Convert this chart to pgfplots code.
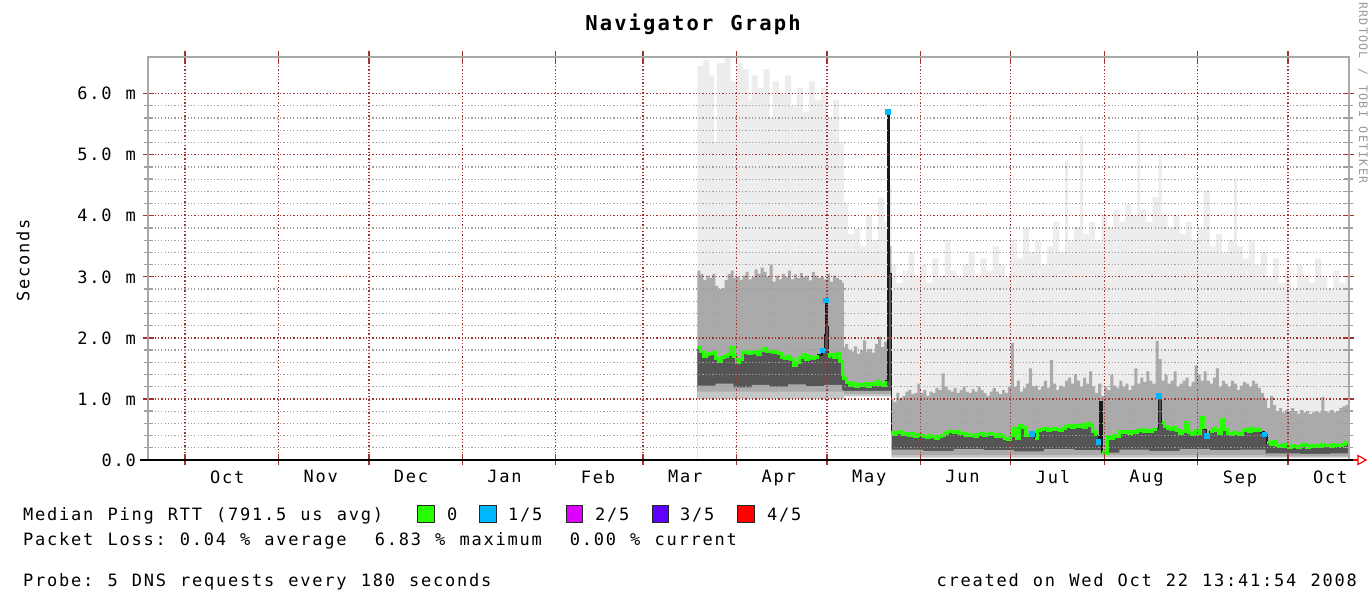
\documentclass[border=0pt]{standalone}
\usepackage{pgfplots}
\pgfplotsset{compat=1.18}
\usepackage{pgfplotstable}
\usepackage{fontspec}
\newfontfamily\pix{DejaVu Sans Mono}[LetterSpace=10.4, WordSpace=1.173]
\newcommand\pixf{\pix\fontsize{17bp}{20bp}\selectfont}
\definecolor{lightsmoke}{HTML}{EDEDED}
\definecolor{midsmoke}{HTML}{AAAAAA}
\definecolor{darksmoke}{HTML}{555555}
\definecolor{lowsmoke}{HTML}{C6C6C6}
\definecolor{gridred}{HTML}{A03232}
\definecolor{gridgray}{HTML}{A0A0A0}
\definecolor{axisgray}{HTML}{A8A8A8}
\definecolor{lossgreen}{HTML}{26FF00}
\definecolor{lossblue}{HTML}{00B8FF}
\definecolor{lossmag}{HTML}{DD00FF}
\definecolor{losspurple}{HTML}{5E00FF}
\definecolor{lossred}{HTML}{FF0000}
% median RTT (ms) per day since 1 Oct 2007; loss: 0 = none, 1 = 1/5, 9 = drawn black only
\pgfplotstableread{
d med loss
170 1.84 0
171 1.78 0
172 1.69 0
173 1.72 0
174 1.75 0
175 1.76 0
176 1.66 0
177 1.62 0
178 1.68 0
179 1.70 0
180 1.72 0
181 1.84 0
182 1.70 0
183 1.60 0
184 1.64 0
185 1.76 0
186 1.78 0
187 1.74 0
188 1.76 0
189 1.77 0
190 1.72 0
191 1.80 0
192 1.82 0
193 1.78 0
194 1.80 0
195 1.76 0
196 1.78 0
197 1.74 0
198 1.68 0
199 1.66 0
200 1.70 0
201 1.65 0
202 1.54 0
203 1.60 0
204 1.68 0
205 1.72 0
206 1.65 0
207 1.70 0
208 1.66 0
209 1.68 0
210 1.72 0
211.4 1.80 1
212.2 2.05 9
212.6 2.62 1
213.0 2.20 9
213.5 1.70 0
214 1.72 0
215 1.68 0
216 1.74 0
217 1.62 0
218 1.40 0
218.6 1.34 0
219.5 1.27 0
220.5 1.22 0
221.5 1.25 0
222.5 1.20 0
223.5 1.24 0
224.5 1.22 0
225.5 1.26 0
226.5 1.21 0
227.5 1.25 0
228.5 1.23 0
229.5 1.28 0
230.5 1.24 0
231.5 1.22 0
232.5 1.30 0
233.2 5.70 1
233.8 3.05 9
234.4 0.45 0
235 0.42 0
236 0.45 0
237 0.46 0
238 0.42 0
239 0.44 0
240 0.40 0
241 0.43 0
242 0.38 0
243 0.41 0
244 0.40 0
245 0.38 0
246 0.37 0
247 0.40 0
248 0.39 0
249 0.36 0
250 0.38 0
251 0.40 0
252 0.44 0
253 0.46 0
254 0.47 0
255 0.45 0
256 0.46 0
257 0.44 0
258 0.43 0
259 0.40 0
260 0.42 0
261 0.40 0
262 0.38 0
263 0.41 0
264 0.43 0
265 0.40 0
266 0.42 0
267 0.44 0
268 0.42 0
269 0.39 0
270 0.41 0
271 0.38 0
272 0.36 0
273 0.34 0
274 0.40 0
275 0.52 0
276 0.36 0
277 0.56 0
278 0.54 0
279 0.40 0
280 0.38 0
281 0.43 1
282 0.36 0
283 0.48 0
284 0.50 0
285 0.52 0
286 0.49 0
287 0.50 0
288 0.52 0
289 0.50 0
290 0.48 0
291 0.51 0
292 0.55 0
293 0.56 0
294 0.54 0
295 0.57 0
296 0.55 0
297 0.58 0
298 0.54 0
299 0.60 0
300 0.56 0
301 0.46 0
302 0.40 0
303 0.30 1
303.6 0.95 9
304.2 0.12 0
305 0.10 0
306 0.38 0
307 0.36 0
308 0.40 0
309 0.38 0
310 0.46 0
311 0.45 0
312 0.47 0
313 0.44 0
314 0.46 0
315 0.45 0
316 0.48 0
317 0.50 0
318 0.47 0
319 0.49 0
320 0.46 0
321 0.50 0
322 0.52 0
323 1.05 1
324 0.62 0
325 0.55 0
326 0.52 0
327 0.50 0
328 0.54 0
329 0.48 0
330 0.44 0
331 0.47 0
332 0.62 0
333 0.45 0
334 0.42 0
335 0.48 0
336 0.44 0
337 0.70 0
338 0.50 0
339 0.40 1
340 0.46 0
341 0.52 0
342 0.48 0
343 0.44 0
344 0.66 0
345 0.50 0
346 0.44 0
347 0.42 0
348 0.45 0
349 0.43 0
350 0.42 0
351 0.48 0
352 0.50 0
353 0.46 0
354 0.52 0
355 0.48 0
356 0.50 0
357 0.46 0
358 0.42 1
359 0.28 0
360 0.26 0
361 0.30 0
362 0.24 0
363 0.22 0
364 0.25 0
365 0.22 0
366 0.20 0
367 0.24 0
368 0.22 0
369 0.21 0
370 0.23 0
371 0.25 0
372 0.21 0
373 0.23 0
374 0.22 0
375 0.24 0
376 0.22 0
377 0.25 0
378 0.23 0
379 0.24 0
380 0.22 0
381 0.25 0
382 0.24 0
383 0.23 0
384 0.25 0
385 0.29 0
386.2 0.29 0
}\Med
% top of the light smoke
\pgfplotstableread{
d v
170 6.45
172 6.55
174 6.30
175.5 5.20
176.5 6.50
179 6.60
181 6.20
183 6.50
185 6.40
187 5.90
188 6.30
190 6.10
192 6.40
194 5.60
195 6.20
197 6.00
199 6.30
201 5.80
203 6.10
205 5.70
207 6.20
209 5.90
211 6.10
213 5.60
215 5.90
217 5.20
218.6 4.20
220 3.70
222 3.80
224 3.50
226 4.00
228 3.60
230 4.30
232 3.90
233 4.50
234.4 3.20
236 2.90
238 3.10
240 3.40
242 3.00
244 3.20
246 2.90
248 3.30
250 3.00
252 3.60
254 3.10
256 3.00
258 3.20
260 3.40
262 3.00
264 3.30
266 3.10
268 3.50
270 3.20
272 3.00
274 3.60
276 3.30
278 3.80
280 3.40
282 3.60
284 3.20
286 3.50
288 3.90
290 3.40
292 4.90
293 3.60
295 3.80
297 5.30
298 3.70
300 3.90
302 3.60
304 4.00
306 3.80
308 4.10
310 3.90
312 4.20
314 4.00
316 5.40
317 4.10
319 3.90
321 4.30
323 5.00
324 4.00
326 3.80
328 4.00
330 3.70
332 3.90
334 3.60
336 3.80
338 4.40
340 3.50
342 3.70
344 3.40
346 3.60
348 4.60
349 3.50
351 3.30
353 3.60
355 3.20
357 3.40
359 3.00
361 3.30
363 2.90
365 3.10
367 2.80
369 3.20
371 3.00
373 2.90
375 3.30
377 3.00
379 2.80
381 3.10
383 2.90
385 3.00
386.2 3.00
}\Lhi
% top of the mid smoke
\pgfplotstableread{
d v
170 3.10
171 3.05
172 2.95
173 3.02
174 2.98
175 3.05
176 2.85
177 2.80
178 2.82
179 2.95
180 3.05
181 3.10
182 2.98
183 3.00
184 2.95
185 3.02
186 3.08
187 2.96
188 3.00
189 3.12
190 3.05
191 3.15
192 3.08
193 3.00
194 3.20
195 2.92
196 3.02
197 2.96
198 3.05
199 3.00
200 3.10
201 2.96
202 3.04
203 2.98
204 3.06
205 3.00
206 3.02
207 2.94
208 3.08
209 3.02
210 2.98
211 3.00
212 2.96
213 3.05
214 2.92
215 3.02
216 2.98
217 2.95
218 2.90
218.6 1.85
219 1.90
220 1.80
221 1.78
222 1.86
223 1.74
224 1.80
225 1.96
226 1.78
227 1.82
228 1.76
229 1.90
230 2.02
231 1.85
232 1.94
233 3.50
234.4 1.00
235 0.95
236 1.10
237 1.00
238 1.05
239 1.12
240 1.15
241 1.08
242 1.10
243 1.25
244 1.10
245 1.15
246 1.05
247 1.12
248 1.10
249 1.18
250 1.15
251 1.42
252 1.20
253 1.15
254 1.12
255 1.18
256 1.10
257 1.15
258 1.20
259 1.12
260 1.10
261 1.16
262 1.12
263 1.20
264 1.15
265 1.10
266 1.05
267 1.12
268 1.18
269 1.12
270 1.08
271 1.15
272 1.10
273 1.20
274 1.92
275 1.20
276 1.30
277 1.12
278 1.18
279 1.25
280 1.50
281 1.20
282 1.22
283 1.15
284 1.20
285 1.30
286 1.18
287 1.64
288 1.25
289 1.15
290 1.22
291 1.20
292 1.30
293 1.35
294 1.25
295 1.40
296 1.30
297 1.20
298 1.35
299 1.25
300 1.45
301 1.20
302 1.10
303 1.25
304 1.05
305 1.20
306 1.15
307 1.40
308 1.22
309 1.18
310 1.30
311 1.20
312 1.25
313 1.15
314 1.22
315 1.50
316 1.25
317 1.35
318 1.28
319 1.45
320 1.30
321 1.25
322 1.95
323 1.65
324 1.30
325 1.40
326 1.25
327 1.30
328 1.45
329 1.20
330 1.25
331 1.30
332 1.35
333 1.20
334 1.28
335 1.55
336 1.40
337 1.30
338 1.45
339 1.30
340 1.25
341 1.35
342 1.50
343 1.20
344 1.30
345 1.25
346 1.20
347 1.30
348 1.25
349 1.15
350 1.22
351 1.28
352 1.25
353 1.20
354 1.30
355 1.25
356 1.18
357 1.10
358 1.00
359 0.85
360 1.05
361 0.90
362 0.80
363 0.85
364 0.78
365 0.82
366 0.80
367 0.85
368 0.80
369 0.76
370 0.82
371 0.78
372 0.80
373 0.75
374 0.78
375 0.80
376 0.78
377 1.03
378 0.80
379 0.78
380 0.82
381 0.78
382 0.80
383 0.85
384 0.88
385 0.90
386.2 0.90
}\Mhi
% bottom of the dark smoke
\pgfplotstableread{
d v
170 1.22
176 1.25
182 1.19
188 1.23
194 1.20
200 1.24
206 1.21
212 1.23
218 1.14
218.6 1.13
234.4 0.17
245 0.15
255 0.18
265 0.16
275 0.14
285 0.18
295 0.16
305 0.12
310 0.17
320 0.15
330 0.18
340 0.16
350 0.17
358.5 0.11
370 0.10
380 0.11
386.2 0.11
}\Dlo
% bottom of the mid smoke
\pgfplotstableread{
d v
170 1.12
218.6 1.08
234.4 0.08
358.5 0.06
386.2 0.06
}\Mlo
% bottom of the light smoke
\pgfplotstableread{
d v
170 1.00
218.6 1.04
234.4 0.04
386.2 0.04
}\Llo
\begin{document}
\frenchspacing
\begin{tikzpicture}
\useasboundingbox (0,0) rectangle (1371bp,592bp);
\begin{axis}[
  name=ax, at={(148bp,132bp)}, anchor=south west,
  scale only axis, width=1201bp, height=403bp,
  xmin=-12.28, xmax=386.2, ymin=0, ymax=6.6,
  axis on top,
  axis line style={draw=axisgray, line width=1.5bp},
  tick align=center,
  major tick length=11bp, minor tick length=9bp,
  major tick style={draw=gridred, line width=1.3bp},
  minor tick style={draw=gridgray, line width=1.3bp},
  xtick={0,31,61,92,123,152,183,213,244,274,305,336,366},
  xticklabels={},
  xmajorgrids,
  extra x ticks={14,45,75,106,137,166,197,227,258,288,319,350,380},
  extra x tick labels={Oct,Nov,Dec,Jan,Feb,Mar,Apr,May,Jun,Jul,Aug,Sep,Oct},
  extra x tick style={major tick length=0pt, grid=none},
  xticklabel style={yshift=-7bp},
  ytick={0,1,2,3,4,5,6},
  yticklabels={0.0,1.0 m,2.0 m,3.0 m,4.0 m,5.0 m,6.0 m},
  minor y tick num=4,
  ymajorgrids, yminorgrids,
  major grid style={draw=gridred, line width=1.3bp, dash pattern=on 1.3bp off 2bp},
  minor grid style={draw=gridgray, line width=1.2bp, dash pattern=on 1.2bp off 2.1bp},
  ticklabel style={font=\pixf, text=black},
  yticklabel style={anchor=east, xshift=-3bp},
]
\addplot[const plot, fill=lightsmoke, draw=none] table[x=d,y=v]{\Lhi} \closedcycle;
\addplot[const plot, fill=midsmoke, draw=none] table[x=d,y=v]{\Mhi} \closedcycle;
\addplot[const plot, fill=darksmoke, draw=none] table[x=d,y=med]{\Med} \closedcycle;
\addplot[const plot, fill=midsmoke, draw=none] table[x=d,y=v]{\Dlo} \closedcycle;
\addplot[const plot, fill=lowsmoke, draw=none] table[x=d,y=v]{\Mlo} \closedcycle;
\addplot[const plot, fill=white, draw=none] table[x=d,y=v]{\Llo} \closedcycle;
\addplot[const plot, draw=black!90, line width=1.4bp] table[x=d,y=med]{\Med};
\addplot[const plot, draw=lossgreen, line width=3bp, unbounded coords=jump,
  restrict expr to domain={\thisrow{loss}}{-0.5:0.5}] table[x=d,y=med]{\Med};
\addplot[only marks, mark=square*, mark size=2.3bp, mark options={fill=lossblue, draw=lossblue},
  restrict expr to domain={\thisrow{loss}}{0.5:1.5}] table[x=d,y=med]{\Med};
\end{axis}
\draw[black, line width=2bp] ([xshift=-8bp]ax.south west) -- ([xshift=5bp]ax.south east);
\draw[red, line width=1.2bp] ([xshift=4bp]ax.south east) -- ([xshift=9bp]ax.south east);
\draw[red, line width=1.2bp, line join=miter] ([xshift=9bp,yshift=4.5bp]ax.south east) -- ([xshift=17bp]ax.south east) -- ([xshift=9bp,yshift=-4.5bp]ax.south east) -- cycle;
\node[font=\pix\bfseries\fontsize{20.5bp}{24bp}\selectfont] at (693bp,568bp) {Navigator Graph};
\node[font=\pixf, rotate=90] at (23bp,332bp) {Seconds};
\node[font=\pix\fontsize{11.7bp}{13bp}\selectfont, text=black!40, rotate=-90] at (1363bp,499bp) {RRDTOOL / TOBI OETIKER};
\node[font=\pixf, anchor=base west, inner sep=0pt] at (23bp,71bp) {Median Ping RTT (791.5 us avg)};
\node[draw=black!85, line width=1.3bp, fill=lossgreen, minimum size=16.5bp, inner sep=0pt] at (426bp,78bp) {};
\node[font=\pixf, anchor=base west, inner sep=0pt] at (447bp,71bp) {0};
\node[draw=black!85, line width=1.3bp, fill=lossblue, minimum size=16.5bp, inner sep=0pt] at (488bp,78bp) {};
\node[font=\pixf, anchor=base west, inner sep=0pt] at (508bp,71bp) {1/5};
\node[draw=black!85, line width=1.3bp, fill=lossmag, minimum size=16.5bp, inner sep=0pt] at (574.5bp,78bp) {};
\node[font=\pixf, anchor=base west, inner sep=0pt] at (595bp,71bp) {2/5};
\node[draw=black!85, line width=1.3bp, fill=losspurple, minimum size=16.5bp, inner sep=0pt] at (660.5bp,78bp) {};
\node[font=\pixf, anchor=base west, inner sep=0pt] at (680bp,71bp) {3/5};
\node[draw=black!85, line width=1.3bp, fill=lossred, minimum size=16.5bp, inner sep=0pt] at (746bp,78bp) {};
\node[font=\pixf, anchor=base west, inner sep=0pt] at (767bp,71bp) {4/5};
\node[font=\pixf, anchor=base west, inner sep=0pt] at (23bp,46bp) {Packet Loss: 0.04 \% average\ \ 6.83 \% maximum\ \ 0.00 \% current};
\node[font=\pixf, anchor=base west, inner sep=0pt] at (23bp,6bp) {Probe: 5 DNS requests every 180 seconds};
\node[font=\pixf, anchor=base east, inner sep=0pt] at (1357bp,6bp) {created on Wed Oct 22 13:41:54 2008};
\end{tikzpicture}
\end{document}
